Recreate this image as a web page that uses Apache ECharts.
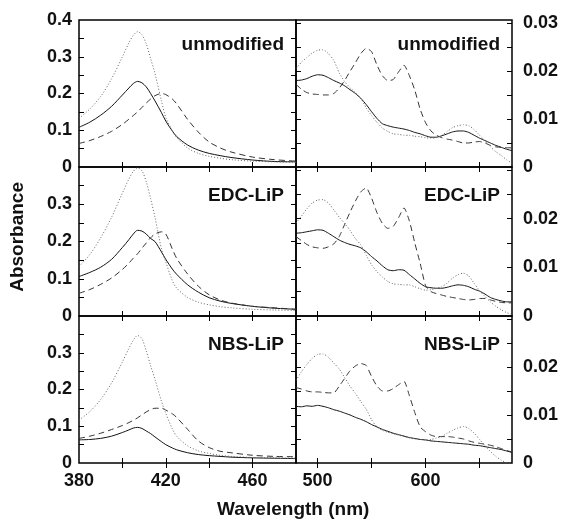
<!DOCTYPE html>
<html>
<head>
<meta charset="utf-8">
<script src="https://cdn.jsdelivr.net/npm/echarts@6/dist/echarts.min.js"></script>
<style>
  html, body { margin: 0; padding: 0; background: #fff; }
  #chart { width: 563px; height: 529px; }
</style>
</head>
<body>
<div id="chart"></div>
<script>
const chart = echarts.init(document.getElementById('chart'));

// wavelengths (nm)
const leftWl = [380, 385, 390, 395, 400, 403, 405, 407, 409, 411, 413, 415, 418, 420, 423, 425, 430, 435, 440, 445, 450, 460, 470, 480];
const rightWl = [480, 485, 490, 495, 500, 505, 510, 515, 520, 525, 530, 535, 540, 545, 550, 555, 560, 565, 570, 575,
  580, 585, 590, 595, 600, 605, 610, 615, 620, 625, 630, 635, 640, 645, 650, 655, 660, 665, 670, 675, 680];

const panelNames = ['unmodified', 'EDC-LiP', 'NBS-LiP'];

// Soret region (left column)
const unmodSolidL = [.108, .122, .141, .165, .196, .215, .227, .233, .229, .218, .200, .180, .148, .125, .098, .083, .060, .046, .037, .031, .026, .019, .015, .014];
const unmodDashL  = [.064, .072, .083, .097, .116, .130, .140, .150, .162, .174, .185, .194, .200, .197, .185, .172, .130, .095, .068, .052, .041, .027, .020, .016];
const unmodDotL   = [.132, .158, .192, .240, .300, .338, .358, .368, .360, .335, .295, .255, .180, .135, .098, .080, .052, .037, .029, .024, .020, .016, .014, .013];

const edcSolidL = [.106, .117, .131, .152, .184, .205, .220, .230, .228, .220, .208, .200, .172, .152, .126, .112, .084, .064, .049, .040, .034, .026, .021, .018];
const edcDashL  = [.061, .071, .085, .102, .125, .142, .155, .167, .182, .196, .210, .220, .226, .220, .180, .155, .113, .080, .057, .043, .035, .026, .022, .018];
const edcDotL   = [.133, .165, .210, .265, .330, .368, .388, .398, .390, .360, .315, .265, .180, .145, .095, .075, .050, .037, .030, .025, .022, .018, .016, .015];

const nbsSolidL = [.063, .064, .067, .073, .083, .090, .095, .097, .094, .087, .080, .071, .058, .050, .041, .036, .028, .023, .020, .018, .016, .014, .013, .012];
const nbsDashL  = [.067, .073, .081, .091, .102, .110, .116, .123, .131, .139, .145, .149, .149, .144, .134, .124, .092, .060, .042, .032, .028, .021, .018, .017];
const nbsDotL   = [.117, .140, .173, .218, .275, .312, .334, .347, .338, .305, .265, .228, .168, .135, .093, .073, .047, .033, .026, .021, .018, .015, .014, .013];

// visible region (right column)
const unmodSolidR = [.0180, .0181, .0184, .0189, .0192, .0191, .0186, .0180, .0175, .0169, .0161, .0153, .0143, .0130, .0115, .0101, .0090, .0086, .0083, .0081,
  .0079, .0076, .0072, .0069, .0065, .0062, .0062, .0065, .0069, .0073, .0075, .0075, .0072, .0066, .0060, .0055, .0050, .0045, .0041, .0037, .0034];
const unmodDashR  = [.0172, .0162, .0155, .0152, .0151, .0150, .0150, .0153, .0164, .0180, .0199, .0217, .0236, .0247, .0240, .0212, .0190, .0180, .0182, .0198,
  .0212, .0190, .0160, .0120, .0092, .0075, .0066, .0061, .0058, .0056, .0053, .0050, .0050, .0052, .0053, .0050, .0045, .0042, .0041, .0040, .0040];
const unmodDotR   = [.0205, .0218, .0228, .0237, .0243, .0244, .0236, .0222, .0196, .0178, .0165, .0155, .0143, .0123, .0107, .0093, .0081, .0074, .0069, .0068,
  .0066, .0066, .0064, .0063, .0061, .0060, .0061, .0066, .0074, .0082, .0086, .0088, .0086, .0078, .0066, .0054, .0042, .0032, .0024, .0015, .0008];

const edcSolidR = [.0170, .0171, .0173, .0175, .0177, .0176, .0170, .0163, .0156, .0151, .0147, .0144, .0140, .0132, .0122, .0113, .0103, .0095, .0093, .0095,
  .0094, .0085, .0076, .0067, .0060, .0058, .0057, .0057, .0059, .0062, .0064, .0063, .0060, .0055, .0051, .0045, .0038, .0034, .0031, .0029, .0029];
const edcDashR  = [.0163, .0155, .0147, .0142, .0140, .0139, .0142, .0148, .0163, .0188, .0213, .0236, .0255, .0263, .0242, .0212, .0190, .0180, .0184, .0202,
  .0222, .0195, .0150, .0108, .0062, .0050, .0046, .0043, .0040, .0038, .0036, .0034, .0033, .0034, .0036, .0036, .0033, .0030, .0028, .0027, .0027];
const edcDotR   = [.0191, .0205, .0220, .0232, .0238, .0239, .0232, .0218, .0203, .0190, .0176, .0159, .0146, .0125, .0105, .0091, .0080, .0071, .0066, .0065,
  .0064, .0064, .0060, .0056, .0053, .0054, .0057, .0060, .0068, .0078, .0085, .0088, .0082, .0067, .0052, .0040, .0029, .0020, .0013, .0007, .0003];

const nbsSolidR = [.0118, .0117, .0119, .0118, .0120, .0118, .0115, .0111, .0108, .0104, .0100, .0095, .0091, .0086, .0080, .0075, .0070, .0066, .0062, .0059,
  .0056, .0053, .0051, .0049, .0048, .0046, .0045, .0044, .0043, .0042, .0041, .0040, .0039, .0037, .0036, .0034, .0032, .0030, .0028, .0025, .0022];
const nbsDashR  = [.0157, .0154, .0150, .0148, .0148, .0147, .0146, .0146, .0160, .0176, .0192, .0202, .0207, .0203, .0180, .0160, .0150, .0150, .0155, .0163,
  .0170, .0140, .0105, .0075, .0065, .0058, .0055, .0055, .0055, .0054, .0052, .0050, .0046, .0043, .0041, .0039, .0037, .0034, .0030, .0026, .0023];
const nbsDotR   = [.0172, .0190, .0205, .0218, .0226, .0227, .0220, .0208, .0196, .0178, .0160, .0145, .0128, .0112, .0090, .0075, .0068, .0064, .0061, .0058,
  .0055, .0052, .0050, .0049, .0048, .0049, .0052, .0055, .0062, .0068, .0073, .0076, .0072, .0062, .0049, .0036, .0024, .0014, .0006, .0000, null];

const leftSets = [[unmodSolidL, unmodDashL, unmodDotL], [edcSolidL, edcDashL, edcDotL], [nbsSolidL, nbsDashL, nbsDotL]];
const rightSets = [[unmodSolidR, unmodDashR, unmodDotR], [edcSolidR, edcDashR, edcDotR], [nbsSolidR, nbsDashR, nbsDotR]];

const FONT = 'Liberation Sans, Arial, sans-serif';
const lineStyles = [
  { color: '#111', width: 1, type: 'solid' },
  { color: '#333', width: 1, type: [6, 4] },
  { color: '#666', width: 1, type: [1, 2] }
];

const rowTop = [20, 167, 316];
const rowH = [147, 149, 147];
const colLeft = [79, 296];
const colW = [217, 216];

const grids = [], xAxes = [], yAxes = [], series = [], graphics = [];

for (let r = 0; r < 3; r++) {
  for (let c = 0; c < 2; c++) {
    const g = grids.length;
    grids.push({ left: colLeft[c], top: rowTop[r], width: colW[c], height: rowH[r],
      show: true, borderColor: '#000', borderWidth: 1.5, backgroundColor: 'transparent' });

    const xMin = c === 0 ? 380 : 480, xMax = c === 0 ? 480 : 680;
    const xTicks = c === 0 ? [400, 420, 440, 460] : [500, 550, 600, 650];
    const xLabels = c === 0 ? [380, 420, 460] : [500, 600];
    ['bottom', 'top'].forEach(pos => {
      xAxes.push({
        gridIndex: g, type: 'value', position: pos, min: xMin, max: xMax,
        axisLine: { show: false },
        axisTick: { show: true, inside: true, length: 5, customValues: xTicks, lineStyle: { color: '#000', width: 1 } },
        axisLabel: { show: pos === 'bottom' && r === 2, customValues: xLabels, margin: 9,
          fontFamily: FONT, fontWeight: 'bold', fontSize: 18, color: '#111' },
        splitLine: { show: false }
      });
    });

    const yMax = c === 0 ? 0.4 : 0.0306;
    const yTicks = c === 0 ? [0.05, 0.1, 0.15, 0.2, 0.25, 0.3, 0.35] : [0.005, 0.01, 0.015, 0.02, 0.025, 0.03];
    let yLabels;
    if (c === 0) yLabels = r === 0 ? [0, 0.1, 0.2, 0.3, 0.4] : [0, 0.1, 0.2, 0.3];
    else yLabels = r === 0 ? [0, 0.01, 0.02, 0.03] : [0, 0.01, 0.02];
    ['left', 'right'].forEach(pos => {
      const showLab = (c === 0 && pos === 'left') || (c === 1 && pos === 'right');
      yAxes.push({
        gridIndex: g, type: 'value', position: pos, min: 0, max: yMax,
        axisLine: { show: false },
        axisTick: { show: true, inside: true, length: 5, customValues: yTicks, lineStyle: { color: '#000', width: 1 } },
        axisLabel: { show: showLab, customValues: yLabels, margin: pos === 'left' ? 7 : 11,
          fontFamily: FONT, fontWeight: 'bold', fontSize: 18, color: '#111',
          formatter: v => v === 0 ? '0' : (c === 0 ? v.toFixed(1) : v.toFixed(2)) },
        splitLine: { show: false }
      });
    });

    const wl = c === 0 ? leftWl : rightWl;
    const sets = c === 0 ? leftSets[r] : rightSets[r];
    sets.forEach((vals, k) => {
      series.push({
        type: 'line', xAxisIndex: g * 2, yAxisIndex: g * 2,
        data: wl.map((w, i) => [w, vals[i]]),
        showSymbol: false, smooth: c === 0 ? 0.3 : 0.2,
        lineStyle: lineStyles[k], silent: true, animation: false
      });
    });

    graphics.push({
      type: 'text', right: 563 - (c === 0 ? 284 : 500), top: rowTop[r] + (r === 0 ? 15 : 19),
      style: { text: panelNames[r], font: 'bold 19px ' + FONT, fill: '#111' }
    });
  }
}

graphics.push({
  type: 'text', left: 8, top: 182, rotation: Math.PI / 2,
  style: { text: 'Absorbance', font: 'bold 19px ' + FONT, fill: '#111' }
});
graphics.push({
  type: 'text', left: 217, top: 500,
  style: { text: 'Wavelength (nm)', font: 'bold 19px ' + FONT, fill: '#111' }
});

chart.setOption({
  animation: false,
  grid: grids,
  xAxis: xAxes,
  yAxis: yAxes,
  series: series,
  graphic: graphics
});

window.addEventListener('resize', () => chart.resize());
</script>
</body>
</html>
